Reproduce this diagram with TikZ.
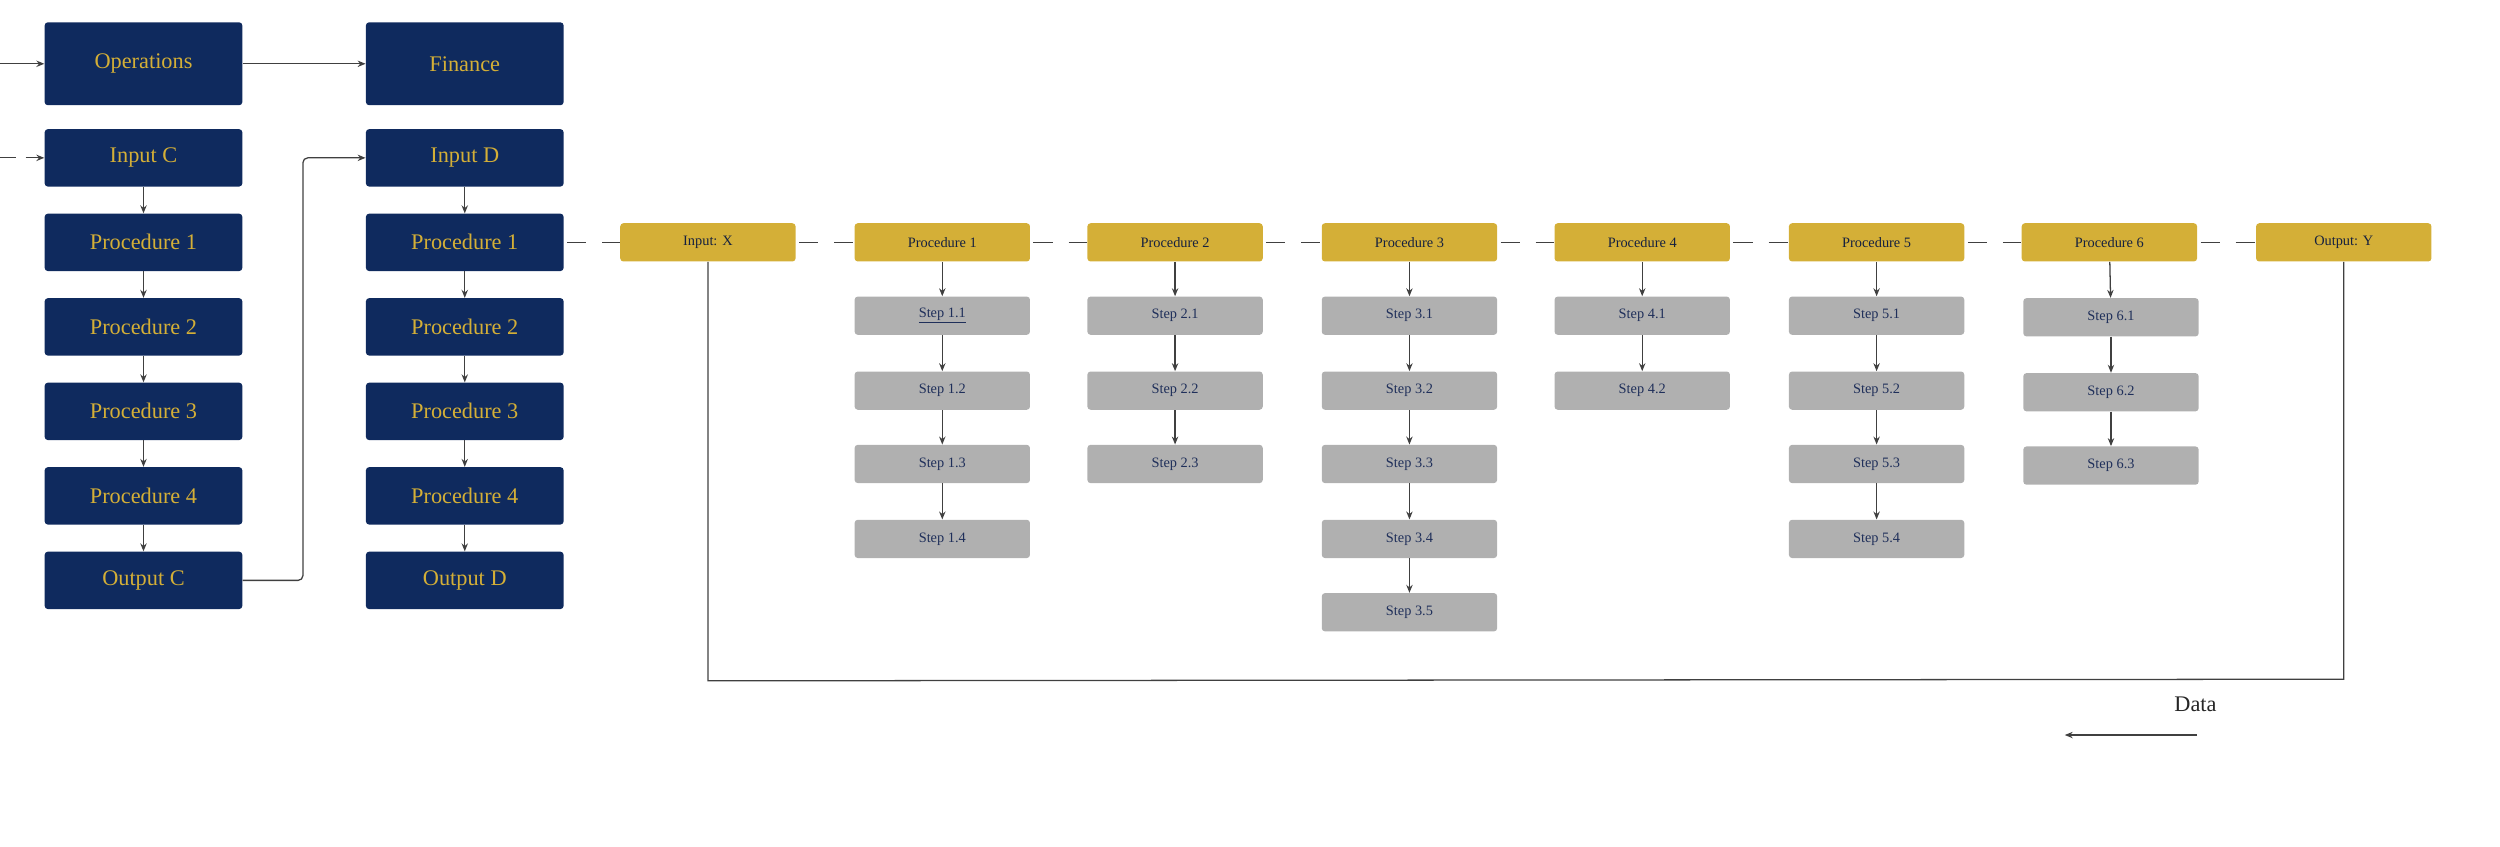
\documentclass[tikz,border=0pt]{standalone}
\usepackage{fontspec}
\setmainfont{Liberation Serif}
\usetikzlibrary{arrows.meta}
\definecolor{navy}{HTML}{0F2A5E}
\definecolor{gold}{HTML}{D4AF37}
\definecolor{stepgray}{HTML}{B0B0B0}
\definecolor{txt}{HTML}{1F2F5A}
\definecolor{ln}{HTML}{404040}
\begin{document}
\begin{tikzpicture}[x=1pt,y=-1pt,
  big/.style={fill=navy,rounded corners=2pt,minimum width=124pt,minimum height=36pt,text=gold,font=\fontsize{14}{16}\selectfont,inner sep=0},
  top/.style={big,minimum height=52pt},
  yel/.style={fill=gold,rounded corners=2pt,minimum width=110pt,minimum height=24pt,text=txt!70!black,font=\fontsize{9}{11}\selectfont,inner sep=0},
  stp/.style={fill=stepgray,rounded corners=2pt,minimum width=110pt,minimum height=24pt,text=txt,font=\fontsize{9}{11}\selectfont,inner sep=0},
  arr/.style={draw=ln,line width=0.8pt,-{Stealth[length=5pt,width=4pt]}},
  dsh/.style={draw=ln,line width=0.8pt,dash pattern=on 12pt off 10pt},
  plain/.style={draw=ln,line width=0.8pt}]
\useasboundingbox (0,0) rectangle (1568,531);
% left columns
\node[top] (ops) at (90,40) {Operations};
\node[top] (fin) at (291.5,40) {Finance};
\foreach \n/\t/\y in {ic/Input C/99,c1/Procedure 1/152,c2/Procedure 2/205,c3/Procedure 3/258,c4/Procedure 4/311,oc/Output C/364}
  \node[big] (\n) at (90,\y) {\t};
\foreach \n/\t/\y in {id/Input D/99,d1/Procedure 1/152,d2/Procedure 2/205,d3/Procedure 3/258,d4/Procedure 4/311,od/Output D/364}
  \node[big] (\n) at (291.5,\y) {\t};
\coordinate (l1) at (0,40); \coordinate (l2) at (0,99);
\draw[arr] (l1) -- (ops);
\draw[arr,dash pattern=on 10pt off 6pt] (l2) -- (ic);
\draw[arr] (ops) -- (fin);
\foreach \a/\b in {ic/c1,c1/c2,c2/c3,c3/c4,c4/oc,id/d1,d1/d2,d2/d3,d3/d4,d4/od} \draw[arr] (\a) -- (\b);
\draw[arr,rounded corners=3pt] (oc.east) -- (190,364) -- (190,99) -- (id.west);
% yellow row
\foreach \n/\t/\x in {ix/{Input: X}/444,p1/Procedure 1/591,p2/Procedure 2/737,p3/Procedure 3/884,p4/Procedure 4/1030,p5/Procedure 5/1177,p6/Procedure 6/1323,oy/{Output: Y}/1470}
  \node[yel] (\n) at (\x,152) {\t};
\foreach \a/\b in {d1/ix,ix/p1,p1/p2,p2/p3,p3/p4,p4/p5,p5/p6,p6/oy}
  \draw[dsh,dash phase=-2pt] (\a.east) -- (\b.west);
% steps
\node[stp] (s11) at (591,198) {\underline{Step 1.1}};
\node[stp] (s12) at (591,245) {Step 1.2};
\node[stp] (s13) at (591,291) {Step 1.3};
\node[stp] (s14) at (591,338) {Step 1.4};
\draw[arr] (p1)--(s11); \draw[arr] (s11)--(s12); \draw[arr] (s12)--(s13); \draw[arr] (s13)--(s14);
\node[stp] (s21) at (737,198) {Step 2.1};
\node[stp] (s22) at (737,245) {Step 2.2};
\node[stp] (s23) at (737,291) {Step 2.3};
\draw[arr] (p2)--(s21); \draw[arr] (s21)--(s22); \draw[arr] (s22)--(s23);
\node[stp] (s31) at (884,198) {Step 3.1};
\node[stp] (s32) at (884,245) {Step 3.2};
\node[stp] (s33) at (884,291) {Step 3.3};
\node[stp] (s34) at (884,338) {Step 3.4};
\node[stp] (s35) at (884,384) {Step 3.5};
\draw[arr] (p3)--(s31); \draw[arr] (s31)--(s32); \draw[arr] (s32)--(s33); \draw[arr] (s33)--(s34); \draw[arr] (s34)--(s35);
\node[stp] (s41) at (1030,198) {Step 4.1};
\node[stp] (s42) at (1030,245) {Step 4.2};
\draw[arr] (p4)--(s41); \draw[arr] (s41)--(s42);
\node[stp] (s51) at (1177,198) {Step 5.1};
\node[stp] (s52) at (1177,245) {Step 5.2};
\node[stp] (s53) at (1177,291) {Step 5.3};
\node[stp] (s54) at (1177,338) {Step 5.4};
\draw[arr] (p5)--(s51); \draw[arr] (s51)--(s52); \draw[arr] (s52)--(s53); \draw[arr] (s53)--(s54);
\node[stp] (s61) at (1324,199) {Step 6.1};
\node[stp] (s62) at (1324,246) {Step 6.2};
\node[stp] (s63) at (1324,292) {Step 6.3};
\draw[arr] (p6)--(s61); \draw[arr] (s61)--(s62); \draw[arr] (s62)--(s63);
% feedback
\draw[plain] (oy.south) -- (1470,426) -- (444,427) -- (ix.south);
\node[font=\fontsize{14}{16}\selectfont,text=black!85] (data) at (1377,442) {Data};
\coordinate (da) at (1378,461); \coordinate (db) at (1295,461);
\draw[arr] (da) -- (db);
\end{tikzpicture}
\end{document}
